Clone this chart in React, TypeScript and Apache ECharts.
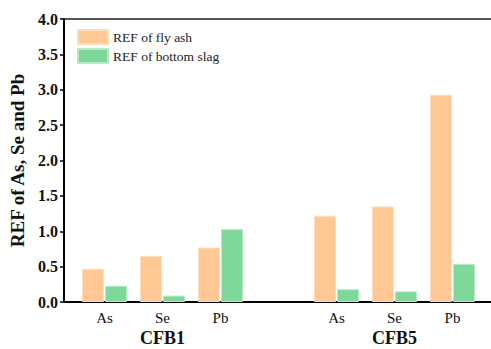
import React, { useEffect, useRef } from "react";
import * as echarts from "echarts";

// Element labels per position; the empty slot separates the two boilers.
const elements = ["As", "Se", "Pb", "", "As", "Se", "Pb"];
const groupLabels = ["", "CFB1", "", "", "", "CFB5", ""];
const flyAsh = [0.47, 0.65, 0.77, null, 1.22, 1.35, 2.93];
const bottomSlag = [0.23, 0.09, 1.03, null, 0.18, 0.15, 0.54];
const yTicks = { min: 0, max: 4, interval: 0.5 };

const SERIF = "Liberation Serif";

export default function App() {
  const ref = useRef<HTMLDivElement>(null);

  useEffect(() => {
    document.body.style.margin = "0";
    if (!ref.current) return;
    const chart = echarts.init(ref.current, null, { renderer: "svg" });

    const plotTop = 19;
    const plotBottom = 349 - 302;

    chart.setOption({
      animation: false,
      backgroundColor: "#fff",
      textStyle: { fontFamily: SERIF },
      legend: {
        orient: "vertical",
        left: 77,
        top: 29,
        padding: 0,
        icon: "rect",
        itemWidth: 30,
        itemHeight: 14,
        itemGap: 3,
        textStyle: { fontFamily: SERIF, fontSize: 13.5, color: "#222" },
        data: ["REF of fly ash", "REF of bottom slag"],
      },
      grid: [
        // bar area (category bands)
        { left: 75.5, right: 9.5, top: plotTop, bottom: plotBottom },
        // frame with the axis lines
        { left: 63, right: -3, top: plotTop, bottom: plotBottom },
      ],
      xAxis: [
        {
          type: "category",
          gridIndex: 0,
          data: elements,
          axisLine: { show: false },
          axisTick: { show: false },
          axisLabel: {
            fontFamily: SERIF,
            fontSize: 15,
            color: "#111",
            margin: 8,
            interval: 0,
          },
        },
        {
          type: "category",
          gridIndex: 0,
          data: groupLabels,
          position: "bottom",
          axisLine: { show: false },
          axisTick: { show: false },
          axisLabel: {
            fontFamily: SERIF,
            fontSize: 18,
            fontWeight: "bold",
            color: "#111",
            margin: 27,
            interval: 0,
          },
        },
        {
          type: "value",
          gridIndex: 1,
          min: 0,
          max: 1,
          position: "bottom",
          axisLine: { show: true, lineStyle: { color: "#000", width: 2 } },
          axisTick: { show: false },
          axisLabel: { show: false },
          splitLine: { show: false },
        },
        {
          type: "value",
          gridIndex: 1,
          min: 0,
          max: 1,
          position: "top",
          axisLine: { show: true, lineStyle: { color: "#222", width: 1.5 } },
          axisTick: { show: false },
          axisLabel: { show: false },
          splitLine: { show: false },
        },
      ],
      yAxis: [
        {
          type: "value",
          gridIndex: 0,
          min: yTicks.min,
          max: yTicks.max,
          show: false,
        },
        {
          type: "value",
          gridIndex: 1,
          min: yTicks.min,
          max: yTicks.max,
          interval: yTicks.interval,
          name: "REF of As, Se and Pb",
          nameLocation: "middle",
          nameGap: 37,
          nameTextStyle: {
            fontFamily: SERIF,
            fontSize: 19,
            fontWeight: "bold",
            color: "#111",
          },
          axisLine: { show: true, lineStyle: { color: "#000", width: 2 } },
          axisTick: {
            show: true,
            inside: false,
            length: 4,
            lineStyle: { color: "#000", width: 1.5 },
          },
          axisLabel: {
            fontFamily: SERIF,
            fontSize: 16,
            fontWeight: "bold",
            color: "#111",
            margin: 6,
            formatter: (v: number) => v.toFixed(1),
          },
          splitLine: { show: false },
        },
      ],
      series: [
        {
          name: "REF of fly ash",
          type: "bar",
          xAxisIndex: 0,
          yAxisIndex: 0,
          data: flyAsh,
          barWidth: 22,
          barGap: "5%",
          itemStyle: {
            color: "#FFC894",
            borderColor: "#FFDDBB",
            borderWidth: 1,
          },
        },
        {
          name: "REF of bottom slag",
          type: "bar",
          xAxisIndex: 0,
          yAxisIndex: 0,
          data: bottomSlag,
          barWidth: 22,
          barGap: "5%",
          itemStyle: {
            color: "#7ED89A",
            borderColor: "#B5EAC5",
            borderWidth: 1,
          },
        },
      ],
    });

    return () => chart.dispose();
  }, []);

  return <div ref={ref} style={{ width: 491, height: 349 }} />;
}
